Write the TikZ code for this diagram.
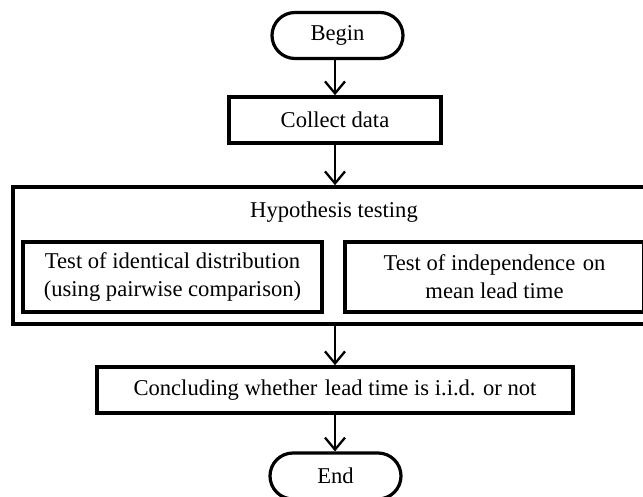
\documentclass[tikz,border=0pt]{standalone}
\usepackage{fontspec}
\setmainfont{Liberation Serif}
\usetikzlibrary{arrows.meta}
\begin{document}
\begin{tikzpicture}[x=1pt,y=-1pt,font=\fontsize{22.6}{28}\selectfont]
\tikzset{
  term/.style={draw,line width=3.2pt,rounded corners=23pt,minimum width=131pt,minimum height=46pt,inner sep=0pt},
  proc/.style={draw,line width=3.6pt,inner sep=0pt,align=center},
  flow/.style={line width=2.3pt,-{Straight Barb[length=12pt,width=20pt,line width=2.3pt]}}
}
\useasboundingbox (0,0) rectangle (643,497);
\node[term] (begin) at (337.5,35.5) {Begin};
\node[proc,minimum width=212pt,minimum height=46pt] (collect) at (335,120) {Collect data};
\node[proc,minimum width=641pt,minimum height=137pt] (hyp) at (333.5,255.5) {};
\node (hyptext) at (334,212) {Hypothesis testing};
\node[proc,minimum width=299pt,minimum height=70pt] (left) at (172.5,277) {Test of identical distribution\\(using pairwise comparison)};
\node[proc,minimum width=299pt,minimum height=70pt] (right) at (494.5,277) {Test of independence\,\,on\\mean lead time};
\node[proc,minimum width=476pt,minimum height=46pt] (concl) at (335,390) {Concluding whether\,\,lead time is i.i.d. or not};
\node[term] (end) at (335.5,476) {End};
\draw[flow] (collect.north |- begin.south) -- (collect.north);
\draw[flow] (collect.south) -- (collect.south |- hyp.north);
\draw[flow] (hyp.south -| concl.north) -- (concl.north);
\draw[flow] (concl.south) -- (end.north -| concl.south);
\end{tikzpicture}
\end{document}
